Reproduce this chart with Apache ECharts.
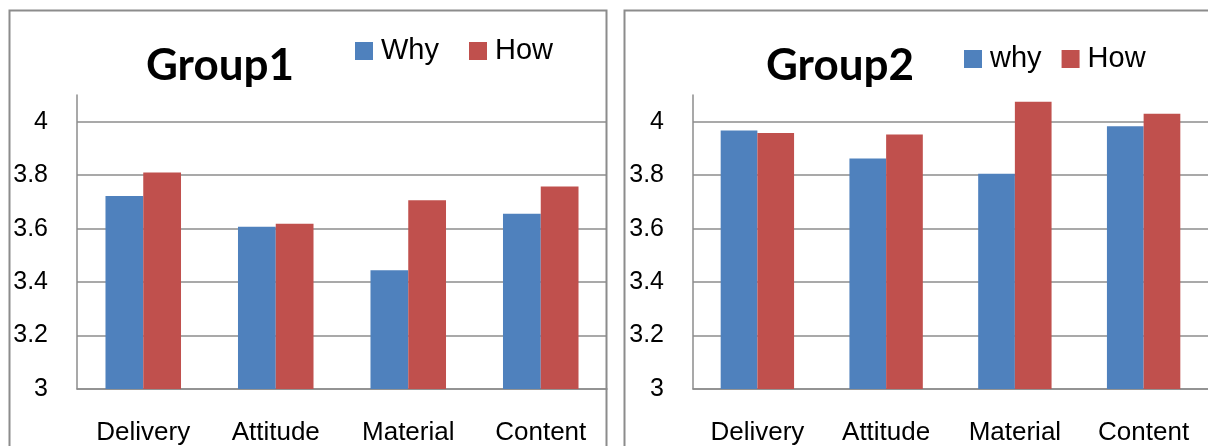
<!DOCTYPE html>
<html>
<head>
<meta charset="utf-8">
<title>Group1 / Group2</title>
<script src="https://cdn.jsdelivr.net/npm/echarts@6/dist/echarts.min.js"></script>
<style>
  html, body { margin: 0; padding: 0; background: #ffffff; }
  #chart { width: 1208px; height: 446px; }
</style>
</head>
<body>
<div id="chart"></div>
<script>
// Mean scores per dimension, two groups, "why" vs "how" questions
const categories = ['Delivery', 'Attitude', 'Material', 'Content'];
const yTicks = [3, 3.2, 3.4, 3.6, 3.8, 4];

const group1Why = [3.722, 3.607, 3.444, 3.656];
const group1How = [3.81, 3.618, 3.706, 3.758];

const group2Why = [3.967, 3.862, 3.805, 3.983];
const group2How = [3.958, 3.952, 4.075, 4.03];

const BLUE = '#4f81bd';
const RED = '#c0504d';
const GRID_GREY = '#8c8c8c';
const FONT = '"Liberation Sans", Arial, sans-serif';

function yAxis(gridIndex) {
  return {
    type: 'value',
    gridIndex,
    min: yTicks[0],
    max: 4.1,
    interval: 0.2,
    axisLine: { show: true, lineStyle: { color: GRID_GREY, width: 1.5 } },
    axisTick: { show: false },
    axisLabel: {
      color: '#000',
      fontFamily: FONT,
      fontSize: 25,
      margin: 29,
      showMaxLabel: false,
      formatter: v => (yTicks.some(t => Math.abs(t - v) < 1e-6) ? String(+v.toFixed(1)) : '')
    },
    splitLine: { show: true, showMaxLine: false, lineStyle: { color: GRID_GREY, width: 1.5 } }
  };
}

function xAxis(gridIndex) {
  return {
    type: 'category',
    gridIndex,
    data: categories,
    axisLine: { show: true, lineStyle: { color: GRID_GREY, width: 1.5 } },
    axisTick: { show: false },
    axisLabel: { color: '#000', fontFamily: FONT, fontSize: 26, margin: 31, interval: 0 }
  };
}

function bar(name, data, color, idx) {
  return {
    name,
    type: 'bar',
    xAxisIndex: idx,
    yAxisIndex: idx,
    data,
    barGap: '0%',
    barCategoryGap: '43%',
    itemStyle: { color },
    emphasis: { disabled: true }
  };
}

const titleStyle = { fontFamily: 'Lato, sans-serif', fontWeight: 'bold', fontSize: 44, color: '#000' };
const legendText = { fontFamily: FONT, fontSize: 29, color: '#000', lineHeight: 30, padding: [0, 0, 0, 3] };

const chart = echarts.init(document.getElementById('chart'), null, { renderer: 'canvas' });

chart.setOption({
  animation: false,
  backgroundColor: '#ffffff',
  title: [
    { text: 'Group1', left: 220, top: 44, padding: 0, textAlign: 'center', textStyle: titleStyle },
    { text: 'Group2', left: 840, top: 44, padding: 0, textAlign: 'center', textStyle: titleStyle }
  ],
  legend: [
    {
      data: ['Why', 'How'],
      left: 355,
      top: 36,
      padding: 0,
      icon: 'rect',
      itemWidth: 18,
      itemHeight: 18,
      itemGap: 30,
      selectedMode: false,
      textStyle: legendText
    },
    {
      data: ['why', 'How'],
      left: 964,
      top: 44,
      padding: 0,
      icon: 'rect',
      itemWidth: 18,
      itemHeight: 18,
      itemGap: 20,
      selectedMode: false,
      textStyle: legendText
    }
  ],
  grid: [
    { left: 77, top: 95, right: 601, bottom: 55 },
    { left: 693, top: 95, right: -1, bottom: 55 }
  ],
  xAxis: [xAxis(0), xAxis(1)],
  yAxis: [yAxis(0), yAxis(1)],
  series: [
    bar('Why', group1Why, BLUE, 0),
    bar('How', group1How, RED, 0),
    bar('why', group2Why, BLUE, 1),
    bar('How', group2How, RED, 1)
  ],
  graphic: [
    {
      type: 'rect',
      z: 100,
      silent: true,
      shape: { x: 9.5, y: 10.5, width: 597, height: 500 },
      style: { fill: null, stroke: GRID_GREY, lineWidth: 2 }
    },
    {
      type: 'rect',
      z: 100,
      silent: true,
      shape: { x: 624.5, y: 10.5, width: 700, height: 500 },
      style: { fill: null, stroke: GRID_GREY, lineWidth: 2 }
    }
  ]
});
</script>
</body>
</html>
